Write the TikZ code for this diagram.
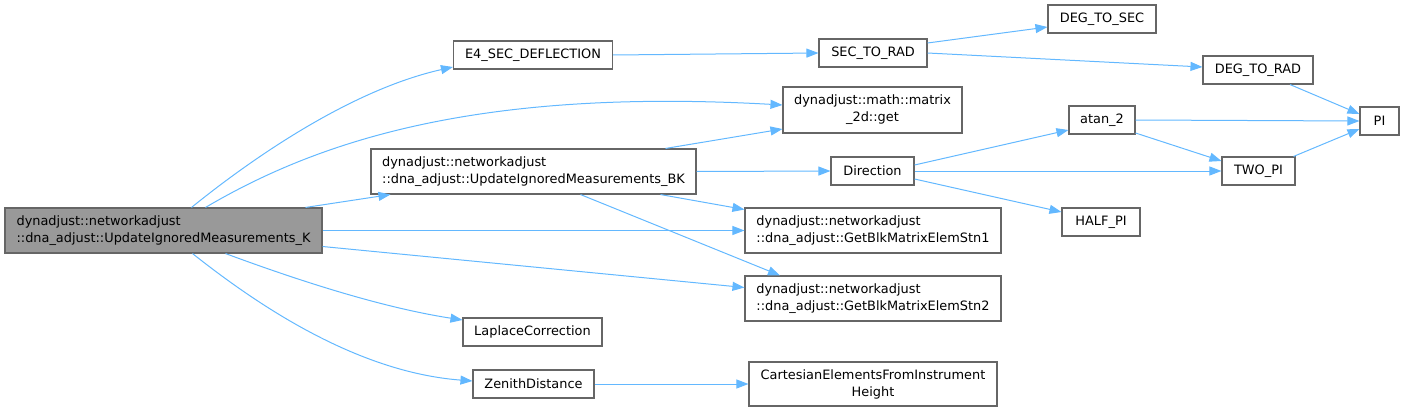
\documentclass[tikz,border=0pt]{standalone}
\usepackage{fontspec}
\setmainfont{DejaVu Sans}
\usetikzlibrary{arrows.meta,calc}
\definecolor{edgeblue}{HTML}{63B8FF}
\definecolor{boxborder}{HTML}{666666}
\definecolor{mainfill}{HTML}{999999}
\begin{document}
\begin{tikzpicture}[x=1pt,y=-1pt,
  fn/.style={draw=boxborder,line width=1.1pt,fill=white,rectangle,inner sep=0pt,
    minimum height=28pt,font=\fontsize{12.9}{17}\selectfont,text=black},
  fnl/.style={fn,align=left,minimum height=45pt},
  fnc/.style={fn,align=center,minimum height=45pt},
  call/.style={draw=edgeblue,line width=1pt,-{Triangle[length=12pt,width=9pt]}}]
\useasboundingbox (0,0) rectangle (1405,412);
% nodes
\node[fnl,fill=mainfill,minimum width=317pt] (main) at (163.5,230.5) {dynadjust::networkadjust\\::dna\_adjust::UpdateIgnoredMeasurements\_K};
\node[fn,minimum width=159pt] (e4) at (533,55) {E4\_SEC\_DEFLECTION};
\node[fn,minimum width=108pt] (str) at (873,53) {SEC\_TO\_RAD};
\node[fn,minimum width=108pt] (dts) at (1102,19) {DEG\_TO\_SEC};
\node[fn,minimum width=110pt] (dtr) at (1258,70) {DEG\_TO\_RAD};
\node[fnc,minimum width=179pt,minimum height=46pt] (get) at (872.5,110) {dynadjust::math::matrix\\\_2d::get};
\node[fn,minimum width=39pt] (pi) at (1379.5,121) {PI};
\node[fnl,minimum width=325pt] (bk) at (533.5,171.5) {dynadjust::networkadjust\\::dna\_adjust::UpdateIgnoredMeasurements\_BK};
\node[fn,minimum width=66pt] (atan) at (1102,120) {atan\_2};
\node[fn,minimum width=83pt] (dir) at (872.5,171) {Direction};
\node[fn,minimum width=73pt] (twopi) at (1258.5,171) {TWO\_PI};
\node[fn,minimum width=78pt] (halfpi) at (1101,222) {HALF\_PI};
\node[fnl,minimum width=256pt] (blka) at (873,230.5) {dynadjust::networkadjust\\::dna\_adjust::GetBlkMatrixElemStn1};
\node[fnl,minimum width=256pt] (blkb) at (873,298.5) {dynadjust::networkadjust\\::dna\_adjust::GetBlkMatrixElemStn2};
\node[fn,minimum width=139pt] (lap) at (532.5,332) {LaplaceCorrection};
\node[fn,minimum width=121pt] (zen) at (533.5,384) {ZenithDistance};
\node[fnc,minimum width=248pt,minimum height=44pt] (cart) at (873,384) {CartesianElementsFromInstrument\\Height};
% edges
\draw[call] ($(main.north)+(28,0)$) .. controls (250,160) and (350,90) .. ($(e4.west)+(0,12)$);
\draw[call] ($(main.north)+(42,0)$) .. controls (320,140) and (480,88) .. ($(get.west)+(0,-5)$);
\draw[call] ($(main.north)+(142,0)$) -- ($(bk.south west)+(20,0)$);
\draw[call] (main.east) -- (blka.west);
\draw[call] ($(main.east)+(0,16)$) -- ($(blkb.west)+(0,-11)$);
\draw[call] ($(main.south)+(62,0)$) .. controls (305,283) and (385,308) .. ($(lap.west)+(0,-12)$);
\draw[call] ($(main.south)+(29,0)$) .. controls (255,303) and (355,372) .. ($(zen.west)+(0,-3)$);
\draw[call] (e4.east) -- (str.west);
\draw[call] ($(str.east)+(0,-10)$) -- ($(dts.west)+(0,8)$);
\draw[call] (str.east) -- ($(dtr.west)+(0,-3)$);
\draw[call] ($(dtr.south)+(32,0)$) -- ($(pi.west)+(0,-7)$);
\draw[call] ($(bk.north)+(132,0)$) -- ($(get.west)+(0,19)$);
\draw[call] (bk.east) -- (dir.west);
\draw[call] ($(bk.south)+(127,0)$) -- ($(blka.west)+(0,-21)$);
\draw[call] ($(bk.south)+(47,0)$) -- ($(blkb.north)+(-93,0)$);
\draw[call] ($(dir.east)+(0,-6)$) -- ($(atan.west)+(0,10)$);
\draw[call] (dir.east) -- (twopi.west);
\draw[call] ($(dir.east)+(0,8)$) -- ($(halfpi.west)+(0,-10)$);
\draw[call] (atan.east) -- (pi.west);
\draw[call] ($(atan.east)+(0,13)$) -- ($(twopi.west)+(0,-10)$);
\draw[call] ($(twopi.north)+(35,0)$) -- ($(pi.west)+(0,8)$);
\draw[call] (zen.east) -- (cart.west);
\end{tikzpicture}
\end{document}
